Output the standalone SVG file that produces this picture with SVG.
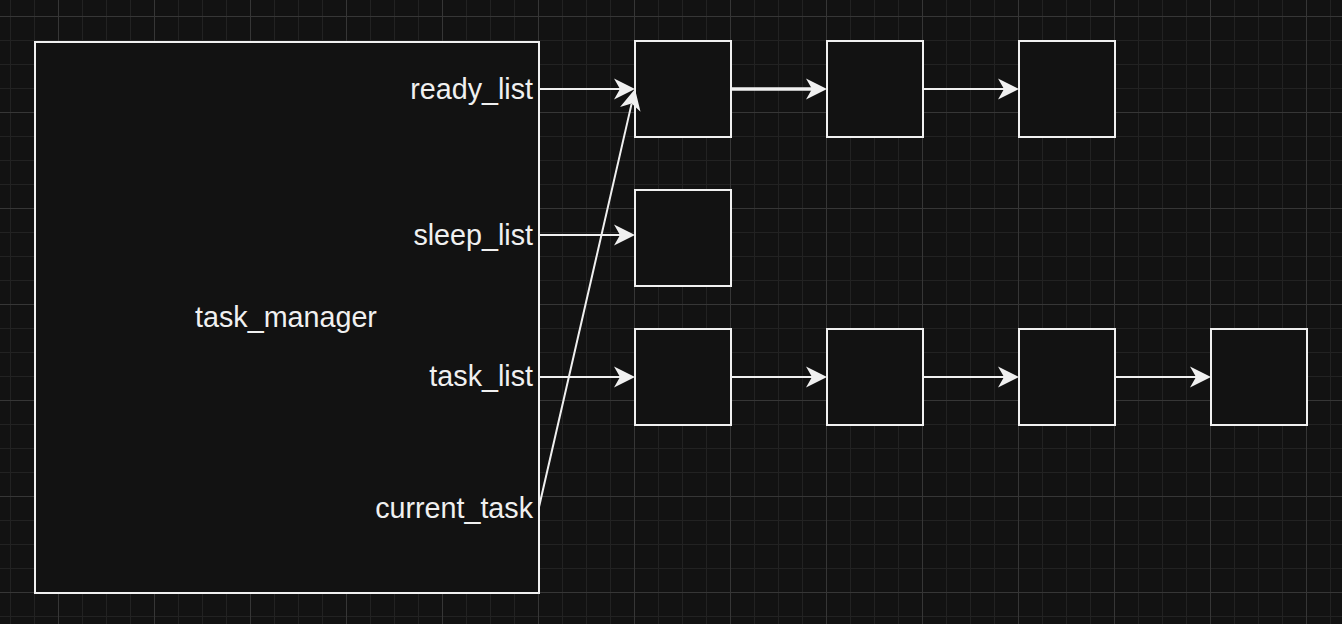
<svg xmlns="http://www.w3.org/2000/svg" width="1342" height="624" viewBox="0 0 1342 624">
  <style>
    .box { fill: #121212; stroke: #f0f0f0; stroke-width: 2; }
    .lbl { fill: #f0f0f0; font-family: "Liberation Sans", Arial, Helvetica, sans-serif; font-size: 28.7px; }
    .edge { fill: none; stroke: #f0f0f0; stroke-width: 2; marker-end: url(#arrow); }
  </style>
  <defs>
    <pattern id="grid" patternUnits="userSpaceOnUse" x="58" y="16" width="96" height="96">
      <rect width="96" height="96" fill="#121212"/>
      <path d="M24.5,0V96M48.5,0V96M72.5,0V96M0,24.5H96M0,48.5H96M0,72.5H96" stroke="#222222" stroke-width="1"/>
      <path d="M0.5,0V96M0,0.5H96" stroke="#363636" stroke-width="1"/>
    </pattern>
    <marker id="arrow" markerUnits="userSpaceOnUse" viewBox="0 -12 24 24" markerWidth="24" markerHeight="24" refX="6" refY="0" orient="auto">
      <path d="M0,-10.5L21,0L0,10.5L6,0Z" fill="#f0f0f0"/>
    </marker>
  </defs>
  <rect width="1342" height="624" fill="url(#grid)"/>

  <g id="task_manager">
    <rect class="box" x="35" y="42" width="504" height="551"/>
    <text class="lbl" x="286" y="327" text-anchor="middle">task_manager</text>
  </g>
  <g id="field-ready_list"><text class="lbl" x="533" y="99" text-anchor="end">ready_list</text></g>
  <g id="field-sleep_list"><text class="lbl" x="533" y="245" text-anchor="end">sleep_list</text></g>
  <g id="field-task_list"><text class="lbl" x="533" y="386" text-anchor="end">task_list</text></g>
  <g id="field-current_task"><text class="lbl" x="533" y="518" text-anchor="end">current_task</text></g>

  <g id="ready1"><rect class="box" x="635" y="41" width="96" height="96"/></g>
  <g id="ready2"><rect class="box" x="827" y="41" width="96" height="96"/></g>
  <g id="ready3"><rect class="box" x="1019" y="41" width="96" height="96"/></g>
  <g id="sleep1"><rect class="box" x="635" y="190" width="96" height="96"/></g>
  <g id="task1"><rect class="box" x="635" y="329" width="96" height="96"/></g>
  <g id="task2"><rect class="box" x="827" y="329" width="96" height="96"/></g>
  <g id="task3"><rect class="box" x="1019" y="329" width="96" height="96"/></g>
  <g id="task4"><rect class="box" x="1211" y="329" width="96" height="96"/></g>

  <g id="connectors">
    <path class="edge" d="M539,89H620"/>
    <path class="edge" style="stroke-width:3.5" d="M731,89H812"/>
    <path class="edge" d="M923,89H1004"/>
    <path class="edge" d="M539,235H620"/>
    <path class="edge" d="M539,377H620"/>
    <path class="edge" d="M731,377H812"/>
    <path class="edge" d="M923,377H1004"/>
    <path class="edge" d="M1115,377H1196"/>
    <path class="edge" d="M539,507L631.64,103.62"/>
  </g>
</svg>
